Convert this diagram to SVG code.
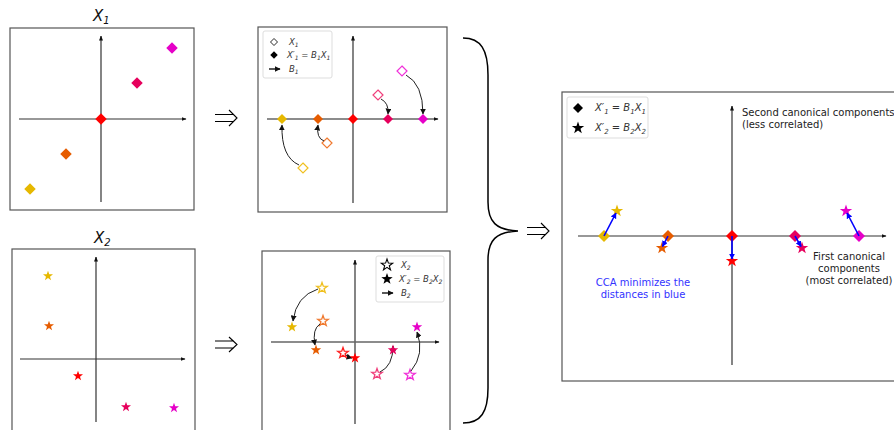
<svg xmlns="http://www.w3.org/2000/svg" xmlns:xlink="http://www.w3.org/1999/xlink" width="894" height="430" viewBox="0 0 894 430">
<style>
.frame{fill:#fff;stroke:#555;stroke-width:1.2}
.ax{stroke:#333;stroke-width:1.2;fill:none}
.axm{stroke:#666;stroke-width:1.6;fill:none}
.cur{stroke:#222;stroke-width:1;fill:none;marker-end:url(#ah)}
.blu{stroke:#0000ff;stroke-width:1.6;fill:none;marker-end:url(#bh)}
.leg{fill:#fff;stroke:#ddd;stroke-width:1}
.lt{font-family:"DejaVu Sans",sans-serif;font-style:italic;font-size:8.5px;fill:#333}
.lt2{font-family:"DejaVu Sans",sans-serif;font-style:italic;font-size:10px;fill:#333}
.tt{font-family:"DejaVu Sans",sans-serif;font-style:italic;font-size:15px;fill:#111}
.an{font-family:"DejaVu Sans",sans-serif;font-size:10px;fill:#222}
.bl{font-family:"DejaVu Sans",sans-serif;font-size:10px;fill:#3333ff;text-anchor:middle}
.dbl{stroke:#000;stroke-width:1.1;fill:none}
.hol{fill:#fff;stroke-width:1.2}
.Y{fill:#e6b800}.O{fill:#e65c00}.R{fill:#ff0000}.C{fill:#e6005c}.M{fill:#e600c8}
.hY{stroke:#f0c020}.hO{stroke:#f07a30}.hR{stroke:#ff2020}.hC{stroke:#f0407c}.hM{stroke:#f030d8}
</style>
<defs>
<path id="dia" d="M0,-5L5,0L0,5L-5,0Z"/>
<path id="star" d="M0,-5L1.18,-1.62L4.76,-1.55L1.9,0.62L2.94,4.050L0,2L-2.94,4.05L-1.9,0.62L-4.76,-1.55L-1.18,-1.62Z"/>
<marker id="ah" viewBox="0 0 10 10" refX="9" refY="5" markerWidth="6" markerHeight="6" markerUnits="userSpaceOnUse" orient="auto"><path d="M0,0L10,5L0,10Z" fill="#111"/></marker>
<marker id="bh" viewBox="0 0 10 10" refX="9" refY="5" markerWidth="6" markerHeight="6" markerUnits="userSpaceOnUse" orient="auto"><path d="M0,0L10,5L0,10Z" fill="#0000ff"/></marker>
<marker id="axh" viewBox="0 0 10 10" refX="9" refY="5" markerWidth="5" markerHeight="5" markerUnits="userSpaceOnUse" orient="auto"><path d="M0,1L10,5L0,9Z" fill="#111"/></marker>
</defs>

<g id="panel-x1">
<text class="tt" x="93" y="21">X<tspan font-size="10" dy="3">1</tspan></text>
<rect class="frame" x="10" y="28" width="184" height="182"/>
<line class="ax" x1="19" y1="119" x2="186" y2="119" marker-end="url(#axh)"/>
<line class="ax" x1="101" y1="202" x2="101" y2="36" marker-end="url(#axh)"/>
<use href="#dia" class="Y" transform="translate(30,189) scale(1.15)"/>
<use href="#dia" class="O" transform="translate(66,154) scale(1.15)"/>
<use href="#dia" class="R" transform="translate(101,119) scale(1.15)"/>
<use href="#dia" class="C" transform="translate(137,83) scale(1.15)"/>
<use href="#dia" class="M" transform="translate(172,48) scale(1.15)"/>
</g>

<g id="panel-b1">
<rect class="frame" x="258" y="27" width="189" height="185"/>
<line class="axm" x1="267" y1="119" x2="438" y2="119" marker-end="url(#axh)"/>
<line class="axm" x1="353" y1="203" x2="353" y2="36" marker-end="url(#axh)"/>
<use href="#dia" class="hol hY" transform="translate(303,168)"/>
<use href="#dia" class="hol hO" transform="translate(327,143)"/>
<use href="#dia" class="hol hC" transform="translate(378,95)"/>
<use href="#dia" class="hol hM" transform="translate(402,71)"/>
<path class="cur" d="M299,165 Q281,157 282,125"/>
<path class="cur" d="M324,141 Q316,138 318,125"/>
<path class="cur" d="M381,99 Q389,103 388,114"/>
<path class="cur" d="M406,75 Q423,84 423,114"/>
<use href="#dia" class="Y" transform="translate(282,119)"/>
<use href="#dia" class="O" transform="translate(318,119)"/>
<use href="#dia" class="R" transform="translate(353,119)"/>
<use href="#dia" class="C" transform="translate(388,119)"/>
<use href="#dia" class="M" transform="translate(423,119)"/>
<rect class="leg" x="263" y="31" width="69" height="47" rx="2"/>
<use href="#dia" fill="#fff" stroke="#000" stroke-width="1.2" transform="translate(274,42) scale(0.7)"/>
<text class="lt" x="289" y="45">X<tspan font-size="6" dy="2">1</tspan></text>
<use href="#dia" fill="#000" transform="translate(274,55) scale(0.75)"/>
<text class="lt" x="287" y="58">X′<tspan font-size="6" dy="2">1</tspan><tspan dy="-2"> = B</tspan><tspan font-size="6" dy="2">1</tspan><tspan dy="-2">X</tspan><tspan font-size="6" dy="2">1</tspan></text>
<line x1="269" y1="69" x2="280" y2="69" stroke="#000" stroke-width="1.3" marker-end="url(#ah)"/>
<text class="lt" x="289" y="72">B<tspan font-size="6" dy="2">1</tspan></text>
</g>

<g id="panel-x2">
<text class="tt" x="94" y="243">X<tspan font-size="10" dy="3">2</tspan></text>
<rect class="frame" x="12" y="249" width="183" height="190"/>
<line class="ax" x1="20" y1="359" x2="185" y2="359" marker-end="url(#axh)"/>
<line class="ax" x1="96" y1="422" x2="96" y2="257" marker-end="url(#axh)"/>
<use href="#star" class="Y" transform="translate(48,276) scale(1.05)"/>
<use href="#star" class="O" transform="translate(49,326) scale(1.05)"/>
<use href="#star" class="R" transform="translate(78,376) scale(1.05)"/>
<use href="#star" class="C" transform="translate(126,407) scale(1.05)"/>
<use href="#star" class="M" transform="translate(174,408) scale(1.05)"/>
</g>

<g id="panel-b2">
<rect class="frame" x="262" y="251" width="188" height="190"/>
<line class="axm" x1="271" y1="342" x2="439" y2="342" marker-end="url(#axh)"/>
<line class="axm" x1="355" y1="424" x2="355" y2="260" marker-end="url(#axh)"/>
<use href="#star" class="hol hY" transform="translate(322,288) scale(1.1)"/>
<use href="#star" class="hol hO" transform="translate(323,321) scale(1.1)"/>
<use href="#star" class="hol hR" transform="translate(343,353) scale(1.1)"/>
<use href="#star" class="hol hC" transform="translate(377,374) scale(1.1)"/>
<use href="#star" class="hol hM" transform="translate(410,375) scale(1.1)"/>
<path class="cur" d="M318,289 Q296,296 293,321"/>
<path class="cur" d="M320,324 Q312,329 315,345"/>
<path class="cur" d="M346,355 Q348,357 352,358"/>
<path class="cur" d="M380,372 Q393,366 393,346"/>
<path class="cur" d="M411,371 Q425,354 417,332"/>
<use href="#star" class="Y" transform="translate(292,327) scale(1.1)"/>
<use href="#star" class="O" transform="translate(316,350) scale(1.1)"/>
<use href="#star" class="R" transform="translate(355,358) scale(1.1)"/>
<use href="#star" class="C" transform="translate(393,350) scale(1.1)"/>
<use href="#star" class="M" transform="translate(417,327) scale(1.1)"/>
<rect class="leg" x="376" y="256" width="68" height="46" rx="2"/>
<use href="#star" fill="#fff" stroke="#000" stroke-width="0.9" transform="translate(387,265) scale(1.2)"/>
<text class="lt" x="401" y="268">X<tspan font-size="6" dy="2">2</tspan></text>
<use href="#star" fill="#000" transform="translate(387,279) scale(1.2)"/>
<text class="lt" x="399" y="282">X′<tspan font-size="6" dy="2">2</tspan><tspan dy="-2"> = B</tspan><tspan font-size="6" dy="2">2</tspan><tspan dy="-2">X</tspan><tspan font-size="6" dy="2">2</tspan></text>
<line x1="382" y1="293" x2="393" y2="293" stroke="#000" stroke-width="1.3" marker-end="url(#ah)"/>
<text class="lt" x="401" y="296">B<tspan font-size="6" dy="2">2</tspan></text>
</g>

<g id="panel-cca">
<rect class="frame" x="562" y="92" width="340" height="289"/>
<line class="ax" x1="578" y1="236" x2="886" y2="236" stroke-width="1.5" marker-end="url(#axh)"/>
<line class="ax" x1="732" y1="365" x2="732" y2="106" stroke-width="1.5" marker-end="url(#axh)"/>
<use href="#dia" class="Y" transform="translate(604,236) scale(1.2)"/>
<use href="#dia" class="O" transform="translate(668,236) scale(1.2)"/>
<use href="#dia" class="R" transform="translate(732,236) scale(1.2)"/>
<use href="#dia" class="C" transform="translate(795,236) scale(1.2)"/>
<use href="#dia" class="M" transform="translate(859,236) scale(1.2)"/>
<use href="#star" class="Y" transform="translate(617,211) scale(1.3)"/>
<use href="#star" class="O" transform="translate(662,248) scale(1.3)"/>
<use href="#star" class="R" transform="translate(732,261) scale(1.3)"/>
<use href="#star" class="C" transform="translate(802,248) scale(1.3)"/>
<use href="#star" class="M" transform="translate(846,211) scale(1.3)"/>
<line class="blu" x1="604" y1="236" x2="616" y2="213"/>
<line class="blu" x1="668" y1="236" x2="662.5" y2="246.5"/>
<line class="blu" x1="732" y1="236" x2="732" y2="259"/>
<line class="blu" x1="795" y1="236" x2="801" y2="246.5"/>
<line class="blu" x1="859" y1="236" x2="847" y2="213"/>
<rect class="leg" x="567" y="97" width="81" height="41" rx="2"/>
<use href="#dia" fill="#000" transform="translate(578,108)"/>
<text class="lt2" x="595" y="111">X′<tspan font-size="7" dy="3">1</tspan><tspan dy="-3"> = B</tspan><tspan font-size="7" dy="3">1</tspan><tspan dy="-3">X</tspan><tspan font-size="7" dy="3">1</tspan></text>
<use href="#star" fill="#000" transform="translate(578,128) scale(1.3)"/>
<text class="lt2" x="595" y="131">X′<tspan font-size="7" dy="3">2</tspan><tspan dy="-3"> = B</tspan><tspan font-size="7" dy="3">2</tspan><tspan dy="-3">X</tspan><tspan font-size="7" dy="3">2</tspan></text>
<text class="an" x="742" y="116">Second canonical components</text>
<text class="an" x="742" y="128">(less correlated)</text>
<text class="an" x="849" y="260" text-anchor="middle">First canonical</text>
<text class="an" x="849" y="272" text-anchor="middle">components</text>
<text class="an" x="849" y="284" text-anchor="middle">(most correlated)</text>
<text class="bl" x="643" y="286">CCA minimizes the</text>
<text class="bl" x="643" y="298">distances in blue</text>
</g>

<g id="connectors">
<path class="dbl" d="M215,114.5H234M215,121.5H234M229,110L237,118L229,126"/>
<path class="dbl" d="M215,341H234M215,348H234M229,337L237,344.5L229,352"/>
<path class="dbl" d="M527,227.5H546M527,234.5H546M541,223L549,231L541,239"/>
<path d="M463,38C481,38 488,50 488,75L488,202C488,222 496,230 518,231C496,232 488,240 488,260L488,388C488,412 481,423 463,423" fill="none" stroke="#000" stroke-width="1.5"/>
</g>
</svg>
